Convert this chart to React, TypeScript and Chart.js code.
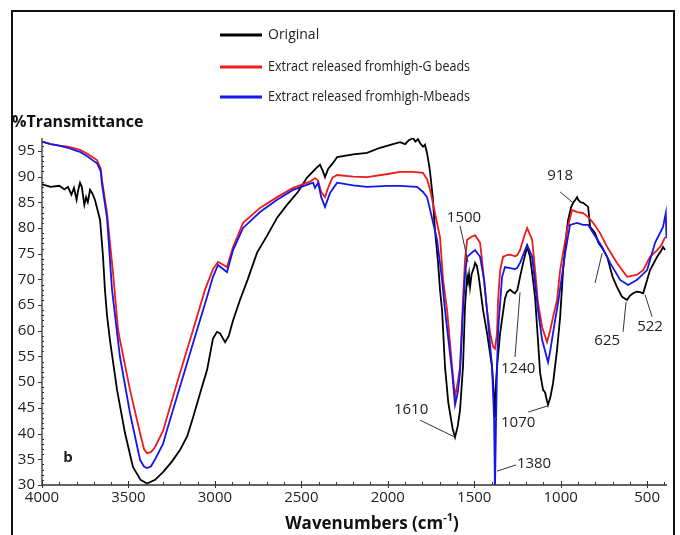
import { useEffect, useRef } from 'react';
import { Chart, registerables } from 'chart.js';
Chart.register(...registerables);

const FONT = '"Open Sans", "DejaVu Sans", sans-serif';
const RED = '#ee1b1b';
const BLUE = '#1515ee';

const seriesNames = ['Original', 'Extract released fromhigh-G beads', 'Extract released fromhigh-Mbeads'];
const seriesColors = ['#000000', RED, BLUE];

const xTicks = [4000, 3500, 3000, 2500, 2000, 1500, 1000, 500];
const yTicks = [30, 35, 40, 45, 50, 55, 60, 65, 70, 75, 80, 85, 90, 95];

const blackWave = [4000, 3950, 3900, 3870, 3850, 3830, 3815, 3800, 3790, 3780, 3770, 3755, 3745, 3735, 3722, 3710, 3693, 3675, 3664, 3647, 3636, 3624, 3607, 3566, 3520, 3474, 3430, 3393, 3346, 3300, 3250, 3202, 3160, 3126, 3080, 3045, 3011, 2988, 2970, 2941, 2920, 2895, 2855, 2810, 2756, 2698, 2640, 2583, 2520, 2467, 2432, 2410, 2392, 2375, 2363, 2345, 2320, 2293, 2200, 2120, 2045, 1980, 1929, 1900, 1880, 1854, 1840, 1825, 1813, 1796, 1785, 1773, 1760, 1755, 1740, 1727, 1709, 1698, 1686, 1669, 1650, 1640, 1625, 1611, 1595, 1582, 1565, 1553, 1541, 1536, 1530, 1524, 1515, 1507, 1500, 1495, 1488, 1484, 1476, 1466, 1449, 1426, 1397, 1385, 1380, 1374, 1368, 1350, 1322, 1310, 1293, 1275, 1264, 1250, 1235, 1215, 1194, 1177, 1160, 1148, 1136, 1119, 1102, 1090, 1080, 1073, 1060, 1044, 1021, 1003, 986, 963, 957, 940, 928, 915, 905, 899, 885, 870, 855, 841, 830, 812, 801, 780, 760, 731, 700, 674, 645, 616, 600, 581, 560, 541, 523, 512, 483, 442, 420, 408, 396];
const blackT = [88.5, 88.0, 88.2, 87.5, 88.0, 86.5, 87.8, 85.5, 87.5, 88.8, 88.0, 84.5, 86.0, 85.0, 87.4, 86.8, 85.4, 83.0, 81.5, 74.4, 68.0, 63.0, 58.2, 48.5, 40.1, 33.5, 31.0, 30.3, 31.0, 32.5, 34.5, 36.8, 39.5, 43.2, 48.5, 52.4, 58.5, 59.8, 59.5, 57.8, 59.0, 62.0, 66.0, 70.0, 75.2, 78.5, 82.0, 84.5, 87.0, 89.8, 91.0, 91.8, 92.3, 91.0, 89.9, 91.5, 92.5, 93.8, 94.3, 94.6, 95.6, 96.2, 96.7, 96.3, 97.0, 97.5, 96.8, 97.3, 96.5, 95.8, 96.2, 94.6, 92.0, 90.7, 86.0, 79.6, 73.2, 68.0, 64.0, 53.0, 46.0, 44.0, 41.0, 39.3, 41.5, 44.6, 53.0, 65.0, 70.5, 69.5, 71.0, 68.5, 71.0, 71.8, 72.5, 73.2, 72.8, 72.4, 71.0, 68.5, 64.0, 59.6, 53.0, 47.0, 43.0, 50.0, 53.0, 59.6, 66.3, 67.5, 68.0, 67.5, 67.3, 68.0, 70.5, 73.5, 76.3, 74.4, 69.9, 66.5, 60.5, 51.8, 48.5, 48.0, 46.5, 45.6, 47.0, 49.8, 56.3, 62.7, 71.8, 80.0, 81.5, 84.0, 84.9, 85.5, 86.0, 85.5, 85.0, 84.9, 84.5, 84.1, 80.2, 79.5, 79.0, 77.0, 76.1, 74.4, 70.5, 68.5, 66.6, 66.0, 66.8, 67.3, 67.6, 67.5, 67.3, 68.5, 71.8, 74.4, 75.5, 76.3, 75.7];

const redWave = [4000, 3950, 3900, 3850, 3800, 3780, 3740, 3700, 3682, 3660, 3653, 3624, 3589, 3560, 3549, 3491, 3433, 3410, 3393, 3370, 3346, 3300, 3277, 3202, 3126, 3057, 3011, 2982, 2960, 2930, 2895, 2837, 2739, 2640, 2548, 2450, 2421, 2403, 2385, 2363, 2345, 2320, 2293, 2200, 2120, 2000, 1929, 1854, 1796, 1773, 1755, 1727, 1698, 1680, 1657, 1628, 1611, 1595, 1582, 1565, 1553, 1541, 1520, 1495, 1466, 1449, 1426, 1408, 1391, 1380, 1368, 1362, 1350, 1333, 1310, 1290, 1264, 1252, 1235, 1210, 1194, 1165, 1148, 1131, 1107, 1079, 1061, 1044, 1021, 1003, 963, 934, 905, 870, 841, 812, 772, 731, 674, 616, 558, 523, 483, 442, 420, 396];
const redT = [96.8, 96.3, 96.0, 95.8, 95.4, 95.2, 94.5, 93.6, 93.2, 91.5, 89.3, 82.9, 71.2, 60.2, 58.2, 48.5, 40.1, 37.0, 36.2, 36.4, 37.4, 40.5, 43.2, 51.8, 60.2, 68.0, 72.0, 73.4, 73.0, 72.4, 76.3, 81.0, 83.9, 86.0, 87.8, 89.0, 89.7, 89.2, 87.0, 86.0, 87.8, 89.8, 90.3, 90.0, 89.9, 90.5, 90.9, 90.9, 90.7, 89.5, 87.4, 82.9, 78.2, 69.9, 64.0, 53.0, 47.1, 50.0, 53.0, 66.0, 74.0, 77.7, 78.2, 78.6, 77.1, 71.8, 64.0, 59.6, 56.9, 56.5, 59.6, 66.0, 71.8, 74.4, 74.7, 74.8, 74.5, 74.7, 75.7, 78.5, 80.0, 77.7, 71.8, 65.4, 60.7, 57.8, 60.0, 62.7, 66.0, 71.8, 79.6, 83.5, 83.1, 82.9, 82.1, 81.0, 79.0, 76.3, 73.2, 70.5, 70.9, 71.8, 74.4, 75.7, 76.5, 78.2];

const blueWave = [4000, 3950, 3900, 3850, 3800, 3780, 3740, 3700, 3682, 3660, 3653, 3624, 3595, 3560, 3549, 3491, 3433, 3410, 3393, 3370, 3346, 3300, 3277, 3202, 3126, 3045, 3011, 2982, 2960, 2930, 2895, 2837, 2739, 2640, 2548, 2432, 2421, 2403, 2385, 2363, 2334, 2293, 2200, 2120, 2000, 1929, 1831, 1796, 1773, 1755, 1715, 1686, 1669, 1628, 1611, 1595, 1582, 1565, 1553, 1541, 1520, 1495, 1466, 1443, 1426, 1397, 1385, 1380, 1374, 1368, 1362, 1339, 1322, 1293, 1264, 1252, 1235, 1194, 1165, 1148, 1131, 1107, 1073, 1061, 1032, 1015, 974, 946, 905, 870, 841, 812, 760, 714, 656, 610, 558, 500, 454, 408, 392, 388];
const blueT = [96.8, 96.3, 96.0, 95.6, 95.0, 94.8, 94.0, 93.0, 92.6, 91.0, 88.5, 82.0, 68.0, 58.0, 54.9, 44.0, 34.9, 33.6, 33.3, 33.6, 35.0, 38.0, 40.7, 49.1, 57.6, 66.6, 70.5, 72.8, 72.2, 71.4, 75.7, 80.0, 83.1, 85.5, 87.4, 88.8, 87.8, 88.8, 86.0, 84.1, 86.8, 88.8, 88.3, 88.0, 88.2, 88.2, 88.0, 87.0, 86.0, 83.5, 77.7, 69.9, 64.0, 52.0, 45.6, 48.0, 52.0, 64.0, 71.0, 74.4, 75.0, 75.7, 74.4, 69.9, 64.0, 53.0, 42.6, 29.0, 42.0, 53.0, 60.0, 70.5, 72.4, 72.2, 72.0, 72.2, 73.2, 76.7, 74.4, 69.3, 64.0, 58.2, 53.9, 56.0, 62.1, 65.4, 75.1, 80.6, 81.0, 80.6, 80.6, 79.0, 76.3, 73.2, 69.9, 68.9, 69.9, 71.8, 77.1, 80.2, 82.9, 78.0];

// peak annotations: label, label position (wavenumber, %T), leader line start and end
const peakLabels = ['1610', '1500', '1240', '1070', '1380', '918', '625', '522', ''];
const peakLabelPos = [[1865, 44.6], [1559, 81.9], [1246, 52.6], [1246, 42.1], [1154, 34.1], [1003, 90.1], [731, 58.0], [483, 60.7], [0, 0]];
const leaderFrom = [[1813, 42.6], [1582, 80.4], [1264, 54.9], [1188, 44.2], [1258, 33.9], [1003, 87.0], [639, 59.8], [471, 62.7], [801, 69.3]];
const leaderTo = [[1611, 39.3], [1536, 73.4], [1235, 67.5], [1073, 45.4], [1368, 32.7], [928, 84.9], [622, 65.6], [512, 67.0], [760, 75.1]];

const overlay = {
  id: 'overlay',
  beforeDraw(chart: any) {
    const ctx = chart.ctx;
    ctx.save();
    ctx.fillStyle = '#ffffff';
    ctx.fillRect(0, 0, chart.width, chart.height);
    ctx.restore();
  },
  afterDraw(chart: any) {
    const ctx = chart.ctx;
    const xs = chart.scales.x;
    const ys = chart.scales.y;
    const ca = chart.chartArea;
    ctx.save();
    // outer frame
    ctx.strokeStyle = '#111';
    ctx.lineWidth = 2;
    ctx.strokeRect(12, 11, 662, 560);
    // axes
    ctx.strokeStyle = '#333';
    ctx.lineWidth = 1.3;
    ctx.beginPath();
    ctx.moveTo(ca.left, ca.top);
    ctx.lineTo(ca.left, ca.bottom);
    ctx.lineTo(ca.right, ca.bottom);
    ctx.stroke();
    ctx.lineWidth = 1;
    ctx.beginPath();
    for (let v = 30; v <= 97; v++) {
      const y = Math.round(ys.getPixelForValue(v)) + 0.5;
      if (v % 5 === 0) { ctx.moveTo(ca.left - 4, y); ctx.lineTo(ca.left, y); }
      else { ctx.moveTo(ca.left, y); ctx.lineTo(ca.left + 2, y); }
    }
    for (let w = 4000; w >= 400; w -= 100) {
      const x = Math.round(xs.getPixelForValue(w)) + 0.5;
      if (w % 500 === 0) { ctx.moveTo(x, ca.bottom - 4); ctx.lineTo(x, ca.bottom + 3); }
      else { ctx.moveTo(x, ca.bottom - 3); ctx.lineTo(x, ca.bottom); }
    }
    ctx.stroke();

    // leader lines
    ctx.strokeStyle = '#333';
    ctx.lineWidth = 1;
    ctx.beginPath();
    for (let i = 0; i < leaderFrom.length; i++) {
      ctx.moveTo(xs.getPixelForValue(leaderFrom[i][0]), ys.getPixelForValue(leaderFrom[i][1]));
      ctx.lineTo(xs.getPixelForValue(leaderTo[i][0]), ys.getPixelForValue(leaderTo[i][1]));
    }
    ctx.stroke();
    ctx.fillStyle = '#222';
    ctx.font = `15px ${FONT}`;
    ctx.textAlign = 'center';
    ctx.textBaseline = 'middle';
    for (let i = 0; i < peakLabels.length; i++) {
      if (!peakLabels[i]) continue;
      ctx.fillText(peakLabels[i], xs.getPixelForValue(peakLabelPos[i][0]), ys.getPixelForValue(peakLabelPos[i][1]));
    }
    // panel letter
    ctx.font = `bold 15px ${FONT}`;
    ctx.fillText('b', xs.getPixelForValue(3850), ys.getPixelForValue(35.4));

    // legend
    const rows = [35, 67, 97];
    const widths = [57, 202, 202];
    ctx.textAlign = 'left';
    ctx.font = `14px ${FONT}`;
    for (let i = 0; i < seriesNames.length; i++) {
      ctx.strokeStyle = seriesColors[i];
      ctx.lineWidth = 3;
      ctx.beginPath();
      ctx.moveTo(220, rows[i]);
      ctx.lineTo(262, rows[i]);
      ctx.stroke();
      ctx.fillStyle = '#222';
      ctx.fillText(seriesNames[i], 268, rows[i], widths[i]);
    }

    // y title
    ctx.font = `bold 16px ${FONT}`;
    ctx.textBaseline = 'alphabetic';
    ctx.fillStyle = '#111';
    ctx.fillText('%Transmittance', 12, 127, 138);

    // x title with superscript
    const main = 'Wavenumbers (cm';
    const sup = '-1';
    const close = ')';
    ctx.font = `bold 17px ${FONT}`;
    const w1 = ctx.measureText(main).width;
    const w3 = ctx.measureText(close).width;
    ctx.font = `bold 11px ${FONT}`;
    const w2 = ctx.measureText(sup).width;
    const total = w1 + w2 + w3;
    let x0 = 372 - total / 2;
    ctx.font = `bold 17px ${FONT}`;
    ctx.fillText(main, x0, 529);
    ctx.font = `bold 11px ${FONT}`;
    ctx.fillText(sup, x0 + w1, 521);
    ctx.font = `bold 17px ${FONT}`;
    ctx.fillText(close, x0 + w1 + w2, 529);
    ctx.restore();
  },
};

const toPts = (xs: number[], ys: number[]) => xs.map((x, i) => ({ x, y: ys[i] }));

export default function App() {
  const ref = useRef<HTMLCanvasElement>(null);
  useEffect(() => {
    if (!ref.current) return;
    const line = (i: number, xs: number[], ys: number[], order: number) => ({
      label: seriesNames[i],
      data: toPts(xs, ys),
      borderColor: seriesColors[i],
      backgroundColor: seriesColors[i],
      borderWidth: 1.8,
      pointRadius: 0,
      tension: 0,
      fill: false,
      order,
    });
    const tickFont = { family: FONT, size: 15 };
    const chart = new Chart(ref.current, {
      type: 'line',
      data: {
        datasets: [
          line(2, blueWave, blueT, 0),
          line(1, redWave, redT, 1),
          line(0, blackWave, blackT, 2),
        ],
      },
      options: {
        responsive: false,
        animation: false,
        layout: { padding: { left: 0, right: 13, top: 138, bottom: 0 } },
        plugins: { legend: { display: false }, tooltip: { enabled: false }, title: { display: false } },
        scales: {
          x: {
            type: 'linear',
            reverse: true,
            min: 385,
            max: 4000,
            grid: { display: false, drawTicks: false, tickLength: 0 },
            border: { display: false },
            afterBuildTicks: (s: any) => { s.ticks = xTicks.map((v) => ({ value: v })); },
            afterFit: (s: any) => { s.height = 50; },
            ticks: { font: tickFont, color: '#222', padding: 4, maxRotation: 0, autoSkip: false, callback: (v: any) => String(v) },
          },
          y: {
            type: 'linear',
            min: 30,
            max: 97.5,
            grid: { display: false, drawTicks: false, tickLength: 0 },
            border: { display: false },
            afterBuildTicks: (s: any) => { s.ticks = yTicks.map((v) => ({ value: v })); },
            afterFit: (s: any) => { s.width = 42; },
            ticks: { font: tickFont, color: '#222', padding: 7, autoSkip: false, callback: (v: any) => String(v) },
          },
        },
      },
      plugins: [overlay],
    } as any);
    return () => chart.destroy();
  }, []);
  return (
    <div style={{ position: 'fixed', left: 0, top: 0, width: 680, height: 535, background: '#fff' }}>
      <canvas ref={ref} width={680} height={535} style={{ display: 'block' }} />
    </div>
  );
}
